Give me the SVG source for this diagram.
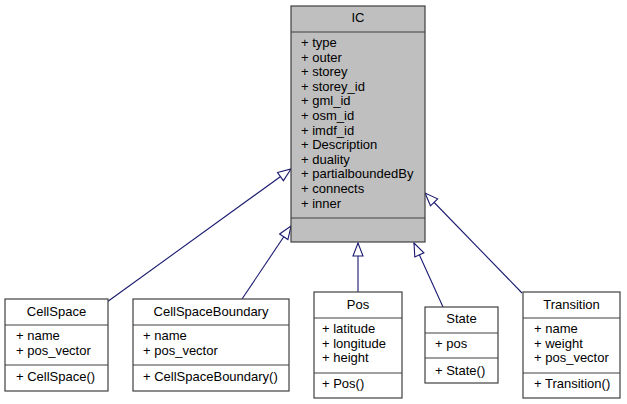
<svg xmlns="http://www.w3.org/2000/svg" width="627" height="404" viewBox="0 0 627 404">
<defs>
<style>
.box{fill:#ffffff;stroke:#404040;stroke-width:1.2}
.ic{fill:#bfbfbf}
.sep{stroke:#404040;stroke-width:1.2}
text{font-family:"Liberation Sans",Arial,Helvetica,sans-serif;font-size:13px;fill:#000000}
.t{text-anchor:middle}
.edge{fill:none;stroke:#191970;stroke-width:1.1}
</style>
<marker id="inh" viewBox="0 0 13 10" refX="13" refY="5" markerWidth="13" markerHeight="10" markerUnits="userSpaceOnUse" orient="auto" overflow="visible">
<path d="M0,0 L13,5 L0,10 Z" fill="#ffffff" stroke="#191970" stroke-width="1.1"/>
</marker>
</defs>
<rect width="627" height="404" fill="#ffffff"/>
<g id="connectors">
<path class="edge" d="M107,302 L291,169" marker-end="url(#inh)"/>
<path class="edge" d="M242,299 L291,226" marker-end="url(#inh)"/>
<path class="edge" d="M358,292 L358,243" marker-end="url(#inh)"/>
<path class="edge" d="M443,307 L414,243" marker-end="url(#inh)"/>
<path class="edge" d="M522,293 L425,193" marker-end="url(#inh)"/>
</g>
<g id="IC">
<rect class="box ic" x="291" y="6" width="134" height="236"/>
<line class="sep" x1="291" y1="32" x2="425" y2="32"/>
<line class="sep" x1="291" y1="218" x2="425" y2="218"/>
<text class="t" x="358" y="22">IC</text>
<text x="301" y="47">+ type</text>
<text x="301" y="61.6">+ outer</text>
<text x="301" y="76.2">+ storey</text>
<text x="301" y="90.8">+ storey_id</text>
<text x="301" y="105.4">+ gml_id</text>
<text x="301" y="120">+ osm_id</text>
<text x="301" y="134.6">+ imdf_id</text>
<text x="301" y="149.2">+ Description</text>
<text x="301" y="163.8">+ duality</text>
<text x="301" y="178.4">+ partialboundedBy</text>
<text x="301" y="193">+ connects</text>
<text x="301" y="207.6">+ inner</text>
</g>
<g id="CellSpace">
<rect class="box" x="5" y="299" width="103" height="92"/>
<line class="sep" x1="5" y1="325" x2="108" y2="325"/>
<line class="sep" x1="5" y1="365" x2="108" y2="365"/>
<text class="t" x="56.5" y="316">CellSpace</text>
<text x="16" y="340">+ name</text>
<text x="16" y="355">+ pos_vector</text>
<text x="16" y="381">+ CellSpace()</text>
</g>
<g id="CellSpaceBoundary">
<rect class="box" x="133" y="299" width="156" height="92"/>
<line class="sep" x1="133" y1="325" x2="289" y2="325"/>
<line class="sep" x1="133" y1="365" x2="289" y2="365"/>
<text class="t" x="211" y="316">CellSpaceBoundary</text>
<text x="143" y="340">+ name</text>
<text x="143" y="355">+ pos_vector</text>
<text x="143" y="381">+ CellSpaceBoundary()</text>
</g>
<g id="Pos">
<rect class="box" x="314" y="292" width="88" height="106"/>
<line class="sep" x1="314" y1="318" x2="402" y2="318"/>
<line class="sep" x1="314" y1="373" x2="402" y2="373"/>
<text class="t" x="358" y="309">Pos</text>
<text x="322" y="333">+ latitude</text>
<text x="322" y="347.5">+ longitude</text>
<text x="322" y="362">+ height</text>
<text x="322" y="388">+ Pos()</text>
</g>
<g id="State">
<rect class="box" x="425" y="307" width="73" height="76"/>
<line class="sep" x1="425" y1="333" x2="498" y2="333"/>
<line class="sep" x1="425" y1="358" x2="498" y2="358"/>
<text class="t" x="461.5" y="323">State</text>
<text x="435" y="348">+ pos</text>
<text x="435" y="375">+ State()</text>
</g>
<g id="Transition">
<rect class="box" x="523" y="292" width="97" height="106"/>
<line class="sep" x1="523" y1="318" x2="620" y2="318"/>
<line class="sep" x1="523" y1="373" x2="620" y2="373"/>
<text class="t" x="571.5" y="309">Transition</text>
<text x="534" y="333">+ name</text>
<text x="534" y="347.5">+ weight</text>
<text x="534" y="362">+ pos_vector</text>
<text x="534" y="388">+ Transition()</text>
</g>
</svg>
